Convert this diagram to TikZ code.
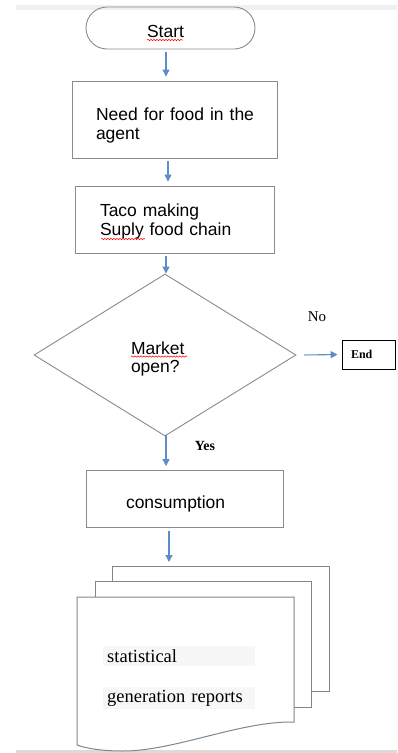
\documentclass[tikz,border=0pt]{standalone}
\usepackage{fontspec}
\setmainfont{Liberation Sans}
\newfontfamily\docfont{Liberation Serif}
\usetikzlibrary{shapes.geometric,arrows.meta,decorations.pathmorphing}
\definecolor{flowblue}{HTML}{5B8DC6}
\definecolor{edgegray}{HTML}{8A8A8A}
\definecolor{pagegray}{HTML}{7D8790}

\begin{document}
\begin{tikzpicture}[x=1pt,y=-1pt,
  box/.style={draw=edgegray, line width=0.9pt, rectangle, align=left, text depth=3pt, font=\fontsize{17.5}{19}\selectfont},
  flow/.style={draw=flowblue, line width=1.1pt, -{Triangle[length=7pt,width=7pt]}, shorten <=3pt, shorten >=4pt},
  page/.style={draw=pagegray, line width=1pt, fill=white},
  note/.style={font=\docfont\fontsize{18.5}{22}\selectfont, fill=black!3, anchor=west, align=left, text width=144pt, inner xsep=4pt, minimum height=20pt},
  typo/.style={red, line width=0.5pt, decorate, decoration={snake, amplitude=0.7pt, segment length=3pt}}]

  % page edges
  \useasboundingbox (0,0) rectangle (397,753);
  \fill[black!6] (16,5) rectangle (397,10);
  \fill[brown!15!gray!30] (16,750) rectangle (397,753);

  \coordinate (axis) at (166,0);

  % flow boxes
  \node[box, rounded corners=21pt, minimum width=169pt, minimum height=42pt, text width=47pt, inner xsep=61pt, text height=21pt] (start) at (170.5,28) {Start};
  \node[box, minimum width=205pt, minimum height=77pt, text width=158pt, inner xsep=23.5pt, text height=12pt, text depth=10pt] (need) at (175,119.5) {\hbox to 158pt{Need\hfill for\hfill food\hfill in\hfill the}\\agent};
  \node[box, minimum width=199pt, minimum height=67pt, text width=149pt, inner xsep=25pt, text height=12pt, text depth=19pt] (taco) at (174.5,219.5) {Taco making\\Suply food chain};
  \node[diamond, draw=edgegray, line width=0.9pt, minimum width=262pt, minimum height=162pt, inner sep=0pt, align=left, text width=68pt, text height=12pt, text depth=14pt, font=\fontsize{17.5}{18}\selectfont] (market) at (165,355) {Market\\open?};
  \node[draw=black, line width=0.8pt, minimum width=53pt, minimum height=29pt, text width=35pt, inner xsep=9pt, align=left, font=\docfont\bfseries\fontsize{12}{14}\selectfont] (end) at (368.5,354.5) {End};
  \node[box, minimum width=197pt, minimum height=57pt, text width=117pt, inner xsep=40pt, text height=21pt] (use) at (184.5,499) {consumption};

  % branch labels
  \node[font=\docfont\fontsize{15}{17}\selectfont] (no) at (317,317) {No};
  \node[font=\docfont\bfseries\fontsize{14}{16}\selectfont] (yes) at (205,446) {Yes};

  % stacked report pages
  \draw[page] (112,566) rectangle (329,691);
  \draw[page] (95,581) rectangle (311,707);
  \draw[page] (77,597) -- (294,597) -- (294,722)
    .. controls (240,721) and (175,751) .. (123,751)
    .. controls (100,751) and (85,748) .. (77,745) -- cycle;
  \coordinate (docs) at (169,566);
  \node[note] (stat) at (103,656) {statistical};
  \node[note] (gen) at (103,698) {generation reports};

  % spell check marks
  \draw[typo] (147,40) -- (183,40);
  \draw[typo] (101,239) -- (145,239);
  \draw[typo] (131,356.5) -- (187,356.5);

  % connectors
  \draw[flow] (start.south -| axis) -- (need.north -| axis);
  \draw[flow] ([xshift=2pt]need.south -| axis) -- ([xshift=2pt]taco.north -| axis);
  \draw[flow] (taco.south -| axis) -- ([yshift=-4pt]market.north -| axis);
  \draw[flow] ([xshift=5pt]market.east) -- (end.west);
  \draw[flow] ([yshift=4pt]market.south -| axis) -- (use.north -| axis);
  \draw[flow] ([xshift=3pt]use.south -| axis) -- ([xshift=3pt]docs -| axis);
\end{tikzpicture}
\end{document}
